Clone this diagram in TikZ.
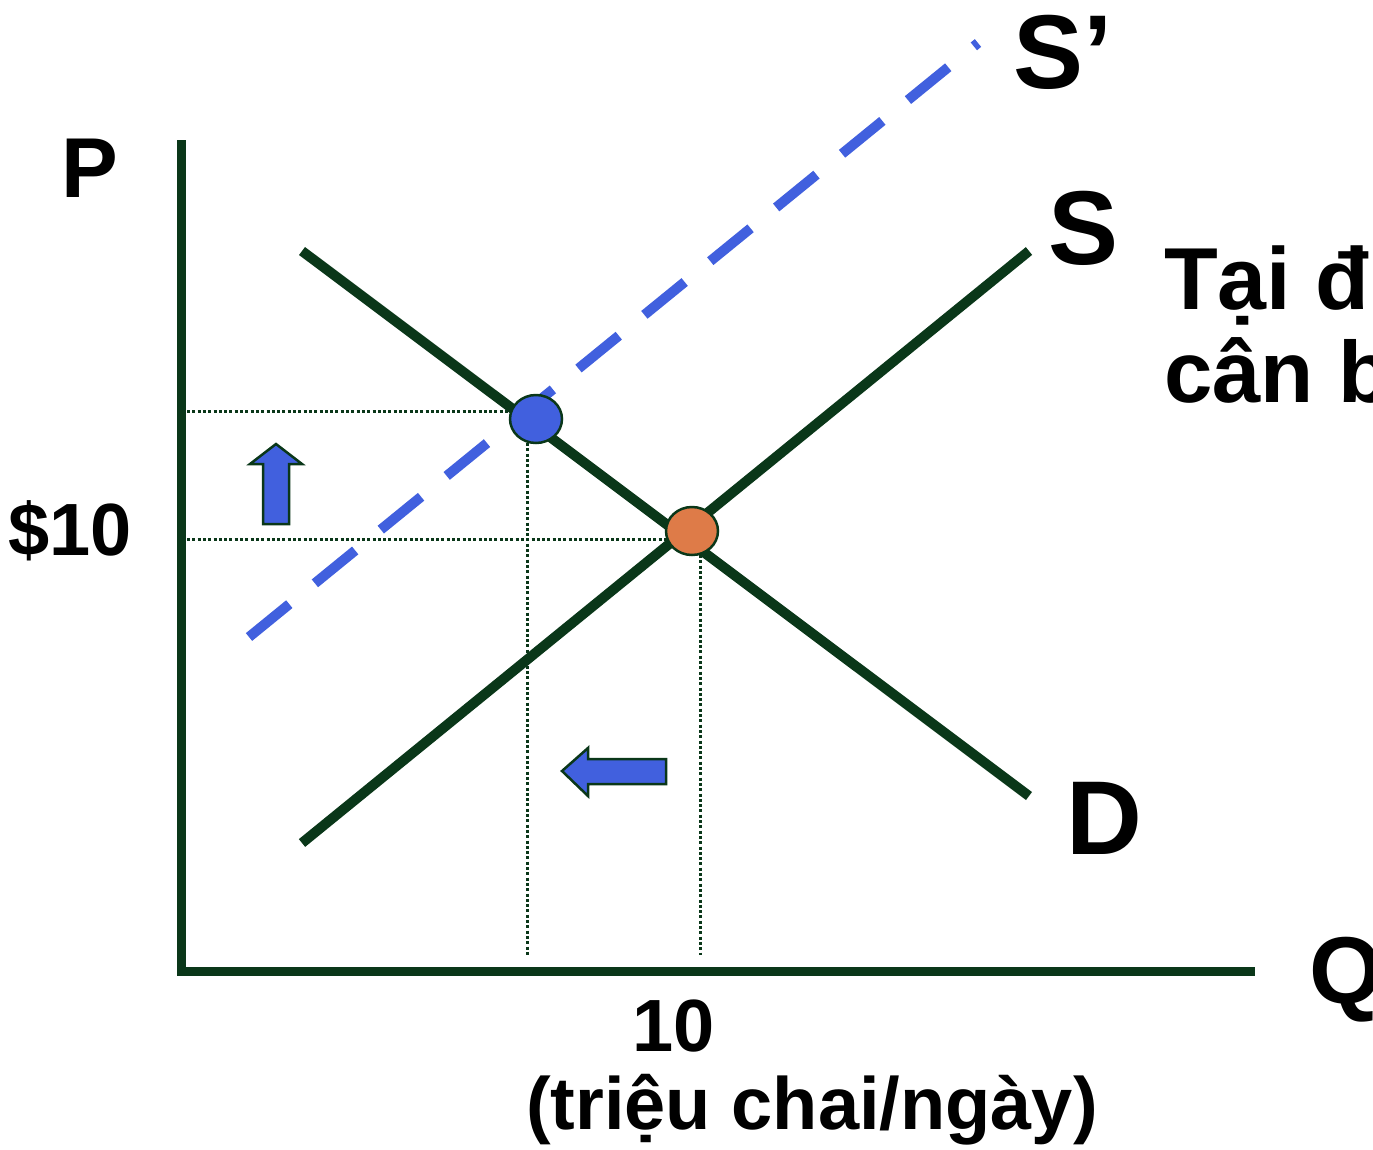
\documentclass[tikz,border=0pt]{standalone}
\usepackage{fontspec}
\setmainfont{Liberation Sans}
\usetikzlibrary{shapes.geometric}
\definecolor{dgreen}{RGB}{10,55,25}
\definecolor{sblue}{RGB}{65,96,222}
\definecolor{eorange}{RGB}{222,123,72}
\begin{document}
\begin{tikzpicture}[x=1pt,y=-1pt,
  axis/.style={line width=9pt,draw=dgreen},
  curve/.style={line width=10pt,draw=dgreen},
  shifted/.style={line width=10pt,draw=sblue,dash pattern=on 52pt off 33pt},
  guide/.style={line width=3pt,draw=dgreen,dash pattern=on 3pt off 2.3pt},
  lbl/.style={font=\bfseries,inner sep=0pt,anchor=base west},
  dot/.style={ellipse,draw=dgreen,line width=2.5pt,minimum width=52pt,minimum height=48pt,inner sep=0pt},
  blockarrow/.style={fill=sblue,draw=dgreen,line width=2.5pt,line join=miter}]
\useasboundingbox (0,0) rectangle (1373,1149);
\clip (0,0) rectangle (1373,1149);
% coordinates
\coordinate (yTop) at (181,140);
\coordinate (origin) at (181,971);
\coordinate (xEnd) at (1255,971);
\coordinate (d1) at (302,251);
\coordinate (d2) at (1029,796);
\coordinate (s1) at (302,843);
\coordinate (s2) at (1029,251);
\coordinate (sp1) at (249,637);
\coordinate (sp2) at (978,43);
\coordinate (g1a) at (187,411);
\coordinate (g1b) at (510,411);
\coordinate (g2a) at (187,539);
\coordinate (g2b) at (668,539);
\coordinate (v1a) at (527,443);
\coordinate (v1b) at (527,955);
\coordinate (v2a) at (700,555);
\coordinate (v2b) at (700,955);
% guides
\draw[guide] (g1a) -- (g1b);
\draw[guide] (g2a) -- (g2b);
\draw[guide] (v1a) -- (v1b);
\draw[guide] (v2a) -- (v2b);
% curves
\draw[shifted] (sp1) -- (sp2);
\draw[curve] (d1) -- (d2);
\draw[curve] (s1) -- (s2);
% axes
\draw[axis] (181,140) -- (181,975);
\draw[axis] (177,971) -- (xEnd);
% points
\node[dot,fill=sblue] (newEq) at (536,419) {};
\node[dot,fill=eorange] (oldEq) at (692,531) {};
% block arrows
\draw[blockarrow] (276,444) -- (302,464) -- (289,464) -- (289,524) -- (263,524) -- (263,464) -- (250,464) -- cycle;
\draw[blockarrow] (562,771) -- (588,748) -- (588,759) -- (666,759) -- (666,784) -- (588,784) -- (588,796) -- cycle;
% labels
\node[lbl,font=\bfseries\fontsize{85}{85}\selectfont] (P) at (61,197) {P};
\node[lbl,font=\bfseries\fontsize{95}{95}\selectfont] (Q) at (1309,1003) {Q};
\node[lbl,font=\bfseries\fontsize{105}{105}\selectfont] (Sp) at (1013,88) {S’};
\node[lbl,font=\bfseries\fontsize{105}{105}\selectfont] (S) at (1048,264) {S};
\node[lbl,font=\bfseries\fontsize{105}{105}\selectfont] (D) at (1066,854) {D};
\node[lbl,font=\bfseries\fontsize{74}{74}\selectfont] (price) at (8,555) {\$10};
\node[lbl,font=\bfseries\fontsize{74}{74}\selectfont] (qty) at (632,1051) {10};
\node[lbl,font=\bfseries\fontsize{74}{74}\selectfont] (unit) at (526,1129) {(triệu chai/ngày)};
\node[lbl,font=\bfseries\fontsize{88}{88}\selectfont] (t1) at (1164,309) {Tại điểm};
\node[lbl,font=\bfseries\fontsize{87}{87}\selectfont] (t2) at (1164,402) {cân bằng};
\end{tikzpicture}
\end{document}
